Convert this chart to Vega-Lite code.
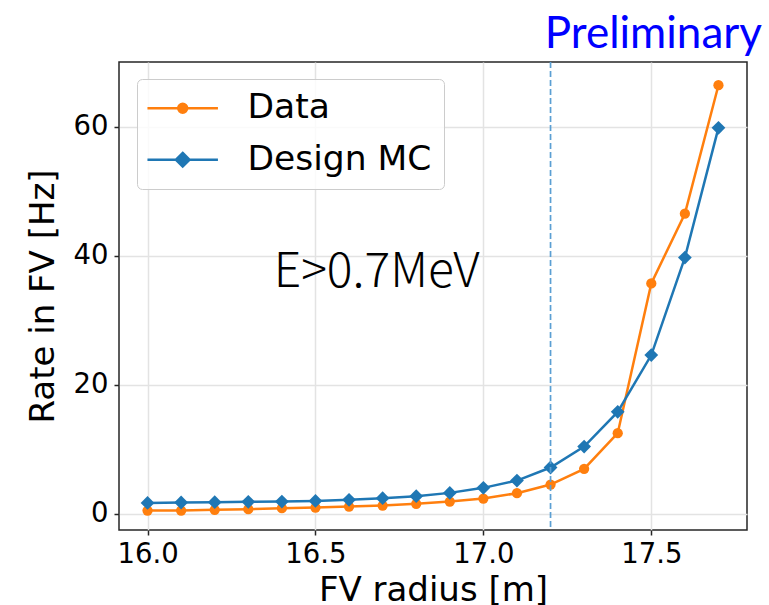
{
  "$schema": "https://vega.github.io/schema/vega-lite/v6.json",
  "width": 628,
  "height": 468,
  "autosize": {"type": "none"},
  "padding": {"left": 119, "top": 62, "right": 22, "bottom": 75},
  "background": "white",
  "title": {"text": "Preliminary", "anchor": "end", "frame": "group", "dx": 15, "dy": 48, "offset": 17, "baseline": "alphabetic", "font": "Lato", "fontSize": 44, "fontWeight": "normal", "color": "#0000ff"},
  "config": {
    "view": {"stroke": "#262626", "strokeWidth": 1.5},
    "font": "DejaVu Sans",
    "axis": {
      "domain": false,
      "grid": true,
      "gridColor": "#e3e3e3",
      "gridWidth": 1.5,
      "ticks": true,
      "tickSize": 5,
      "tickWidth": 1.5,
      "tickColor": "#262626",
      "labelFont": "DejaVu Sans",
      "labelFontSize": 27.5,
      "labelColor": "#000000",
      "labelPadding": 5,
      "titleFont": "DejaVu Sans",
      "titleFontSize": 34,
      "titleFontWeight": "normal",
      "titleColor": "#000000"
    }
  },
  "datasets": {
    "rates": [
      {"radius": 16.0, "rate": 0.52, "series": "Data"},
      {"radius": 16.1, "rate": 0.52, "series": "Data"},
      {"radius": 16.2, "rate": 0.62, "series": "Data"},
      {"radius": 16.3, "rate": 0.72, "series": "Data"},
      {"radius": 16.4, "rate": 0.88, "series": "Data"},
      {"radius": 16.5, "rate": 0.98, "series": "Data"},
      {"radius": 16.6, "rate": 1.14, "series": "Data"},
      {"radius": 16.7, "rate": 1.29, "series": "Data"},
      {"radius": 16.8, "rate": 1.55, "series": "Data"},
      {"radius": 16.9, "rate": 1.91, "series": "Data"},
      {"radius": 17.0, "rate": 2.37, "series": "Data"},
      {"radius": 17.1, "rate": 3.2, "series": "Data"},
      {"radius": 17.2, "rate": 4.54, "series": "Data"},
      {"radius": 17.3, "rate": 6.97, "series": "Data"},
      {"radius": 17.4, "rate": 12.5, "series": "Data"},
      {"radius": 17.5, "rate": 35.7, "series": "Data"},
      {"radius": 17.6, "rate": 46.5, "series": "Data"},
      {"radius": 17.7, "rate": 66.4, "series": "Data"},
      {"radius": 16.0, "rate": 1.70, "series": "Design MC"},
      {"radius": 16.1, "rate": 1.76, "series": "Design MC"},
      {"radius": 16.2, "rate": 1.81, "series": "Design MC"},
      {"radius": 16.3, "rate": 1.86, "series": "Design MC"},
      {"radius": 16.4, "rate": 1.91, "series": "Design MC"},
      {"radius": 16.5, "rate": 2.01, "series": "Design MC"},
      {"radius": 16.6, "rate": 2.17, "series": "Design MC"},
      {"radius": 16.7, "rate": 2.43, "series": "Design MC"},
      {"radius": 16.8, "rate": 2.74, "series": "Design MC"},
      {"radius": 16.9, "rate": 3.25, "series": "Design MC"},
      {"radius": 17.0, "rate": 4.03, "series": "Design MC"},
      {"radius": 17.1, "rate": 5.16, "series": "Design MC"},
      {"radius": 17.2, "rate": 7.18, "series": "Design MC"},
      {"radius": 17.3, "rate": 10.43, "series": "Design MC"},
      {"radius": 17.4, "rate": 15.8, "series": "Design MC"},
      {"radius": 17.5, "rate": 24.6, "series": "Design MC"},
      {"radius": 17.6, "rate": 39.7, "series": "Design MC"},
      {"radius": 17.7, "rate": 59.8, "series": "Design MC"}
    ]
  },
  "layer": [
    {
      "data": {"name": "rates"},
      "mark": {"type": "point", "filled": false, "opacity": 0},
      "encoding": {
        "x": {"field": "radius", "type": "quantitative", "title": "FV radius [m]",
              "scale": {"domain": [15.915, 17.785], "nice": false, "zero": false},
              "axis": {"values": [16.0, 16.5, 17.0, 17.5], "format": ".1f", "titlePadding": 6}},
        "y": {"field": "rate", "type": "quantitative", "title": "Rate in FV [Hz]",
              "scale": {"domain": [-2.5, 70.0], "nice": false, "zero": false},
              "axis": {"values": [0, 20, 40, 60], "titlePadding": 13, "labelPadding": 6}},
        "color": {"field": "series", "type": "nominal",
                  "scale": {"domain": ["Data", "Design MC"], "range": ["#ff7f0e", "#1f77b4"]},
                  "legend": {
                    "title": null, "orient": "none", "legendX": 18, "legendY": 17,
                    "padding": 12, "fillColor": "rgba(255,255,255,0.8)", "strokeColor": "#cccccc", "cornerRadius": 5,
                    "labelFont": "DejaVu Sans", "labelFontSize": 34.5, "labelColor": "#000000", "labelOffset": 64, "labelLimit": 400,
                    "rowPadding": 16.5, "symbolSize": 552, "symbolStrokeWidth": 2.5, "symbolOpacity": 1
                  }},
        "shape": {"field": "series", "type": "nominal",
                  "scale": {"domain": ["Data", "Design MC"], "range": [
                    "M-1.6,0H4.4M1.78,0A0.38,0.38 0 1,1 1.02,0A0.38,0.38 0 1,1 1.78,0ZM1.67,0A0.27,0.27 0 1,1 1.13,0A0.27,0.27 0 1,1 1.67,0ZM1.56,0A0.16,0.16 0 1,1 1.24,0A0.16,0.16 0 1,1 1.56,0ZM1.46,0A0.06,0.06 0 1,1 1.34,0A0.06,0.06 0 1,1 1.46,0Z",
                    "M-1.6,0H4.4M1.4,-0.58L1.98,0L1.4,0.58L0.82,0ZM1.4,-0.46L1.86,0L1.4,0.46L0.94,0ZM1.4,-0.34L1.74,0L1.4,0.34L1.06,0ZM1.4,-0.22L1.62,0L1.4,0.22L1.18,0ZM1.4,-0.1L1.5,0L1.4,0.1L1.3,0Z"
                  ]},
                  "legend": {
                    "title": null, "orient": "none", "legendX": 18, "legendY": 17,
                    "padding": 12, "fillColor": "rgba(255,255,255,0.8)", "strokeColor": "#cccccc", "cornerRadius": 5,
                    "labelFont": "DejaVu Sans", "labelFontSize": 34.5, "labelColor": "#000000", "labelOffset": 64, "labelLimit": 400,
                    "rowPadding": 16.5, "symbolSize": 552, "symbolStrokeWidth": 2.5, "symbolOpacity": 1
                  }}
      }
    },
    {
      "data": {"name": "rates"},
      "mark": {"type": "line", "strokeWidth": 2.5},
      "encoding": {
        "x": {"field": "radius", "type": "quantitative"},
        "y": {"field": "rate", "type": "quantitative"},
        "color": {"field": "series", "type": "nominal", "legend": null}
      }
    },
    {
      "data": {"name": "rates"},
      "transform": [{"filter": "datum.series === 'Data'"}],
      "mark": {"type": "point", "filled": true, "opacity": 1, "shape": "circle", "size": 105},
      "encoding": {
        "x": {"field": "radius", "type": "quantitative"},
        "y": {"field": "rate", "type": "quantitative"},
        "color": {"field": "series", "type": "nominal", "legend": null}
      }
    },
    {
      "data": {"name": "rates"},
      "transform": [{"filter": "datum.series === 'Design MC'"}],
      "mark": {"type": "point", "filled": true, "opacity": 1, "shape": "diamond", "size": 190},
      "encoding": {
        "x": {"field": "radius", "type": "quantitative"},
        "y": {"field": "rate", "type": "quantitative"},
        "color": {"field": "series", "type": "nominal", "legend": null}
      }
    },
    {
      "data": {"values": [{"note": "FV cut"}]},
      "mark": {"type": "rule", "color": "#5b9fd3", "strokeWidth": 1.7, "strokeDash": [6, 3]},
      "encoding": {"x": {"datum": 17.2, "type": "quantitative"}}
    },
    {
      "data": {"values": [{"note": "E>0.7MeV"}]},
      "mark": {"type": "text", "font": "Noto Sans CJK SC", "fontWeight": 300, "fontSize": 48, "color": "#000000", "align": "center", "baseline": "alphabetic"},
      "encoding": {
        "text": {"field": "note", "type": "nominal"},
        "x": {"datum": 16.682, "type": "quantitative"},
        "y": {"datum": 35.2, "type": "quantitative"}
      }
    }
  ]
}
